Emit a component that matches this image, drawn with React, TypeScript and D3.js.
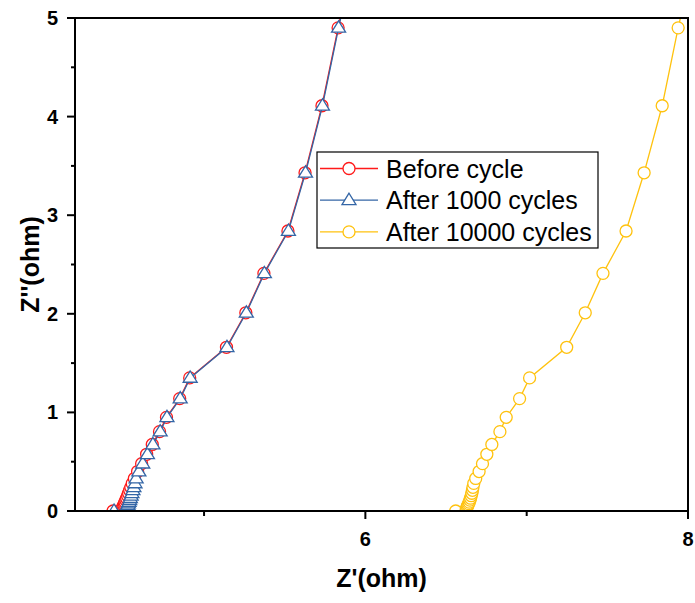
import React from "react";
import * as d3 from "d3";

const zImag = [0.0, 0.015, 0.03, 0.045, 0.06, 0.075, 0.09, 0.11, 0.13, 0.155, 0.18, 0.21, 0.24, 0.28, 0.33, 0.40, 0.48, 0.575, 0.675, 0.805, 0.95, 1.14, 1.35, 1.66, 2.01, 2.41, 2.84, 3.43, 4.11, 4.90, 5.7];
const zRealBefore = [4.436, 4.49, 4.494, 4.498, 4.502, 4.506, 4.51, 4.515, 4.52, 4.526, 4.532, 4.539, 4.546, 4.555, 4.568, 4.588, 4.613, 4.644, 4.679, 4.724, 4.767, 4.849, 4.911, 5.139, 5.259, 5.371, 5.52, 5.626, 5.731, 5.831, 5.935];
const zReal1000 = [4.442, 4.52, 4.522, 4.525, 4.528, 4.531, 4.535, 4.539, 4.543, 4.548, 4.553, 4.559, 4.565, 4.572, 4.579, 4.596, 4.62, 4.649, 4.683, 4.728, 4.77, 4.852, 4.914, 5.142, 5.262, 5.374, 5.523, 5.629, 5.734, 5.834, 5.94];
const zReal10000 = [6.56, 6.625, 6.628, 6.632, 6.636, 6.64, 6.644, 6.648, 6.652, 6.656, 6.66, 6.664, 6.667, 6.672, 6.684, 6.705, 6.726, 6.753, 6.784, 6.834, 6.873, 6.956, 7.018, 7.248, 7.363, 7.473, 7.616, 7.728, 7.84, 7.939, 8.05];

const seriesNames = ["Before cycle", "After 1000 cycles", "After 10000 cycles"];
const xMajorTicks = [6, 8];
const xMinorTicks = [5, 7];
const yMajorTicks = [0, 1, 2, 3, 4, 5];
const yMinorTicks = [0.5, 1.5, 2.5, 3.5, 4.5];

const W = 695, H = 603;
const left = 75, right = 688, top = 18, bottom = 511;

export default function App() {
  const x = d3.scaleLinear().domain([4.2, 8]).range([left, right]);
  const y = d3.scaleLinear().domain([0, 5]).range([bottom, top]);
  const line = d3.line<[number, number]>().x(d => x(d[0])).y(d => y(d[1]));

  const series = [
    { name: seriesNames[0], xs: zRealBefore, color: "#ff1a1a", marker: "circle" },
    { name: seriesNames[1], xs: zReal1000, color: "#3466a6", marker: "triangle" },
    { name: seriesNames[2], xs: zReal10000, color: "#ffc20e", marker: "circle" },
  ];

  const marker = (kind: string, cx: number, cy: number, color: string, key: any) => {
    if (kind === "circle") {
      return <circle key={key} cx={cx} cy={cy} r={6} fill="white" stroke={color} strokeWidth={1.3} />;
    }
    const s = 7;
    const pts = `${cx},${cy - s} ${cx - s * 1.0},${cy + s * 0.62} ${cx + s * 1.0},${cy + s * 0.62}`;
    return <polygon key={key} points={pts} fill="white" stroke={color} strokeWidth={1.3} />;
  };

  const font = "Arial, 'Liberation Sans', sans-serif";

  return (
    <svg width={W} height={H} style={{ position: "absolute", left: 0, top: 0, background: "white" }} fontFamily={font}>
      <defs>
        <clipPath id="plotclip">
          <rect x={left} y={top} width={right - left} height={bottom - top} />
        </clipPath>
      </defs>
      <g clipPath="url(#plotclip)">
        {series.map((s, si) => {
          const data: [number, number][] = s.xs.map((v, i) => [v, zImag[i]]);
          return (
            <g key={si}>
              <path d={line(data) || ""} fill="none" stroke={s.color} strokeWidth={1.3} />
              {data.map((d, i) => marker(s.marker, x(d[0]), y(d[1]), s.color, i))}
            </g>
          );
        })}
      </g>
      <rect x={left} y={top} width={right - left} height={bottom - top} fill="none" stroke="black" strokeWidth={2} />
      {xMajorTicks.map(t => (
        <g key={"xm" + t}>
          <line x1={x(t)} x2={x(t)} y1={bottom} y2={bottom + 8} stroke="black" strokeWidth={2} />
          <text x={x(t)} y={bottom + 35} textAnchor="middle" fontSize={20} fontWeight="bold">{t}</text>
        </g>
      ))}
      {xMinorTicks.map(t => (
        <line key={"xn" + t} x1={x(t)} x2={x(t)} y1={bottom} y2={bottom + 5} stroke="black" strokeWidth={2} />
      ))}
      {yMajorTicks.map(t => (
        <g key={"ym" + t}>
          <line x1={left - 8} x2={left} y1={y(t)} y2={y(t)} stroke="black" strokeWidth={2} />
          <text x={left - 17} y={y(t) + 7} textAnchor="end" fontSize={20} fontWeight="bold">{t}</text>
        </g>
      ))}
      {yMinorTicks.map(t => (
        <line key={"yn" + t} x1={left - 4} x2={left} y1={y(t)} y2={y(t)} stroke="black" strokeWidth={2} />
      ))}
      <text x={(left + right) / 2} y={587} textAnchor="middle" fontSize={25} fontWeight="bold">Z'(ohm)</text>
      <text transform={`translate(39, ${(top + bottom) / 2}) rotate(-90)`} textAnchor="middle" fontSize={25} fontWeight="bold">Z''(ohm)</text>
      <rect x={317} y={152} width={281} height={96} fill="white" stroke="black" strokeWidth={1.2} />
      {series.map((s, i) => {
        const ly = 168.5 + i * 31.7;
        return (
          <g key={"lg" + i}>
            <line x1={320} x2={378} y1={ly} y2={ly} stroke={s.color} strokeWidth={1.3} />
            {marker(s.marker, 349, ly, s.color, "m")}
            <text x={386} y={ly + 9} fontSize={25}>{s.name}</text>
          </g>
        );
      })}
    </svg>
  );
}
